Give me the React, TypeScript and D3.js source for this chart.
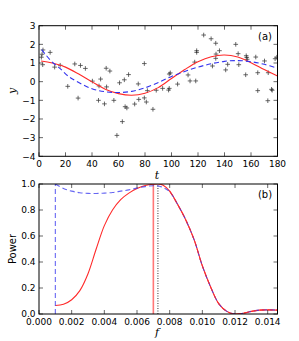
import React from "react";
import * as d3 from "d3";

// ---------- Panel (a) data ----------
const obsT = [1.8,2.3,2.8,3.0,8.4,11.8,16,21.7,27,29.5,31.3,35,40.3,44.9,45.3,46.5,49.4,50.7,51,53.5,56.5,58.8,60.8,62.9,64.4,65,66.3,67.6,72.2,74.9,75.3,79.5,79.5,81,81.8,86,88.5,93.3,97.8,98.3,98.3,99.1,104.6,112.5,114,117.5,118.3,119,119,124.3,129.9,130.9,133.4,133.4,133.6,136.2,140.9,142.4,148.5,150.3,150.8,156.4,156.8,157.1,156,163.6,165.1,165.1,170.2,173,172.7,175.5,176,178.2,179.5];
const obsY = [1.31,1.47,0.91,1.70,1.57,0.78,0.88,-0.25,0.95,-0.88,0.87,0.71,0.03,-1.0,-0.23,0.14,-1.19,0.72,-0.28,0.57,-1.0,-2.88,-0.06,-2.14,0.1,-1.34,-1.41,0.38,-1.2,-0.12,-0.95,0.97,-0.87,-1.09,-0.48,-1.48,-0.46,-0.36,-0.45,-0.36,0.41,0.47,-0.13,0.36,0.04,1.05,0.04,1.66,1.57,2.5,2.3,0.84,2.06,1.25,1.48,1.66,0.63,0.93,2.0,1.5,0.91,1.39,1.30,1.20,0.37,1.32,0.48,-0.48,1.11,0.48,-1.02,-0.41,-0.46,1.23,1.31];

const fitT = [1.5,10,20,30,40,50,60,70,80,90,100,110,120,130,140,150,160,170,180];
const fitRed = [1.11,1.0,0.78,0.41,-0.01,-0.40,-0.64,-0.73,-0.62,-0.32,0.17,0.65,1.07,1.34,1.43,1.32,1.02,0.65,0.30];

const blueT = [2,5,10,16,22,30,40,50,60,70,80,90,100,110,120,130,140,150,160,170,180];
const blueY = [1.72,1.45,1.05,0.70,0.30,-0.05,-0.38,-0.54,-0.58,-0.52,-0.33,-0.05,0.28,0.55,0.78,0.96,1.09,1.13,1.07,0.93,0.72];

const xTicksA = [0,20,40,60,80,100,120,140,160,180];
const yTicksA = [-4,-3,-2,-1,0,1,2,3];

// ---------- Panel (b) data ----------
const redF = [0.001,0.0015,0.002,0.0025,0.003,0.0035,0.004,0.0045,0.005,0.0055,0.006,0.0065,0.007,0.0073,0.0076,0.008,0.0085,0.009,0.0095,0.010,0.0105,0.011,0.0115,0.012,0.0125,0.013,0.0135,0.014,0.0146];
const redP = [0.065,0.075,0.11,0.18,0.31,0.50,0.68,0.80,0.88,0.93,0.965,0.988,0.998,1.0,0.99,0.945,0.84,0.72,0.57,0.37,0.21,0.08,0.02,0.0,0.006,0.02,0.03,0.032,0.03];

const blueF = [0.001,0.001,0.0015,0.002,0.0025,0.003,0.0035,0.004,0.0045,0.005,0.0055,0.006,0.0065,0.007,0.0075,0.008,0.0085,0.009,0.0095,0.010,0.0105,0.011,0.0115,0.012,0.0125,0.013,0.0135,0.014,0.0146];
const blueP = [0.0,1.0,0.965,0.945,0.933,0.928,0.927,0.93,0.935,0.945,0.955,0.968,0.98,0.987,0.978,0.94,0.84,0.72,0.57,0.37,0.21,0.08,0.02,0.0,0.006,0.02,0.03,0.032,0.03];

const fTrue = 0.00728;
const fFit = 0.0070;

const xTicksB = [0,0.002,0.004,0.006,0.008,0.010,0.012,0.014];
const yTicksB = [0,0.2,0.4,0.6,0.8,1.0];

const FONT = "DejaVu Sans, sans-serif";
const SERIF = "DejaVu Serif, serif";

function fmt(v: number, d: number) {
  return v.toFixed(d).replace("-", "\u2212");
}

function Frame({ x, y, xt, yt, xfmt, yfmt }: any) {
  const [x0, x1] = x.range();
  const [y0, y1] = y.range(); // y0 bottom, y1 top
  const tl = 4;
  return (
    <g>
      {xt.map((v: number, i: number) => (
        <g key={"x" + i}>
          <line x1={x(v)} x2={x(v)} y1={y0} y2={y0 - tl} stroke="#000" strokeWidth={0.6} />
          <line x1={x(v)} x2={x(v)} y1={y1} y2={y1 + tl} stroke="#000" strokeWidth={0.6} />
          <text x={x(v)} y={y0 + 11} fontSize={9} fontFamily={FONT} textAnchor="middle" fill="#000">{xfmt(v)}</text>
        </g>
      ))}
      {yt.map((v: number, i: number) => (
        <g key={"y" + i}>
          <line x1={x0} x2={x0 + tl} y1={y(v)} y2={y(v)} stroke="#000" strokeWidth={0.6} />
          <line x1={x1} x2={x1 - tl} y1={y(v)} y2={y(v)} stroke="#000" strokeWidth={0.6} />
          <text x={x0 - 3.5} y={y(v) + 3.3} fontSize={9} fontFamily={FONT} textAnchor="end" fill="#000">{yfmt(v)}</text>
        </g>
      ))}
      <rect x={x0} y={y1} width={x1 - x0} height={y0 - y1} fill="none" stroke="#000" strokeWidth={1} />
    </g>
  );
}

export default function App() {
  const xT = d3.scaleLinear().domain([0, 180]).range([39, 277.5]);
  const yT = d3.scaleLinear().domain([-4, 3]).range([156.3, 25.7]);
  const xF = d3.scaleLinear().domain([0, 0.0146]).range([39, 277.5]);
  const yP = d3.scaleLinear().domain([0, 1]).range([314, 184]);

  const lineA = d3.line<[number, number]>().x(d => xT(d[0])).y(d => yT(d[1])).curve(d3.curveCatmullRom.alpha(0.5));
  const lineB = d3.line<[number, number]>().x(d => xF(d[0])).y(d => yP(d[1])).curve(d3.curveCatmullRom.alpha(0.5));
  const lineBLin = d3.line<[number, number]>().x(d => xF(d[0])).y(d => yP(d[1]));

  const redA = fitT.map((t, i) => [t, fitRed[i]] as [number, number]);
  const blA = blueT.map((t, i) => [t, blueY[i]] as [number, number]);
  const redB = redF.map((f, i) => [f, redP[i]] as [number, number]);
  const blB = blueF.map((f, i) => [f, blueP[i]] as [number, number]);

  const s = 2.3;
  return (
    <svg width={299} height={341} style={{ position: "absolute", left: 0, top: 0, background: "#fff" }}>
      <defs>
        <clipPath id="ca"><rect x={39} y={25.7} width={238.5} height={130.6} /></clipPath>
        <clipPath id="cb"><rect x={39} y={184} width={238.5} height={130} /></clipPath>
      </defs>
      {/* Panel a */}
      <g clipPath="url(#ca)">
        {obsT.map((t, i) => (
          <g key={i} stroke="#222" strokeWidth={0.8} opacity={0.85}>
            <line x1={xT(t) - s} x2={xT(t) + s} y1={yT(obsY[i])} y2={yT(obsY[i])} />
            <line x1={xT(t)} x2={xT(t)} y1={yT(obsY[i]) - s} y2={yT(obsY[i]) + s} />
          </g>
        ))}
        <path d={lineA(redA) || ""} fill="none" stroke="#ff2a2a" strokeWidth={1.1} />
        <path d={lineA(blA) || ""} fill="none" stroke="#3333ee" strokeWidth={1.1} strokeDasharray="5,3" />
      </g>
      <Frame x={xT} y={yT} xt={xTicksA} yt={yTicksA} xfmt={(v: number) => String(v)} yfmt={(v: number) => fmt(v, 0)} />
      <text x={265} y={39.5} fontSize={10} fontFamily={FONT} textAnchor="middle">(a)</text>
      <text x={157} y={179} fontSize={11} fontFamily={SERIF} fontStyle="italic" textAnchor="middle">t</text>
      <text transform="translate(16,91) rotate(-90)" fontSize={11} fontFamily={SERIF} fontStyle="italic" textAnchor="middle">y</text>

      {/* Panel b */}
      <g clipPath="url(#cb)">
        <line x1={xF(fFit)} x2={xF(fFit)} y1={yP(0)} y2={yP(1)} stroke="#ff5555" strokeWidth={1.6} opacity={0.8} />
        <line x1={xF(fTrue)} x2={xF(fTrue)} y1={yP(0)} y2={yP(1)} stroke="#000" strokeWidth={0.8} strokeDasharray="1,1.5" />
        <path d={lineB(redB) || ""} fill="none" stroke="#ff2a2a" strokeWidth={1.1} />
        <path d={lineBLin(blB.slice(0, 2)) || ""} fill="none" stroke="#3333ee" strokeWidth={1.1} strokeDasharray="5,3" opacity={0.75} />
        <path d={lineB(blB.slice(1)) || ""} fill="none" stroke="#3333ee" strokeWidth={1.1} strokeDasharray="5,3" opacity={0.75} />
        <path d={lineB(redB.slice(15)) || ""} fill="none" stroke="#ff2a2a" strokeWidth={1.1} strokeDasharray="5,3" opacity={0.9} />
      </g>
      <Frame x={xF} y={yP} xt={xTicksB} yt={yTicksB} xfmt={(v: number) => v.toFixed(3)} yfmt={(v: number) => v.toFixed(1)} />
      <text x={265} y={198} fontSize={10} fontFamily={FONT} textAnchor="middle">(b)</text>
      <text x={157} y={336} fontSize={11} fontFamily={SERIF} fontStyle="italic" textAnchor="middle">f</text>
      <text transform="translate(16,249) rotate(-90)" fontSize={10} fontFamily={FONT} textAnchor="middle">Power</text>
    </svg>
  );
}
